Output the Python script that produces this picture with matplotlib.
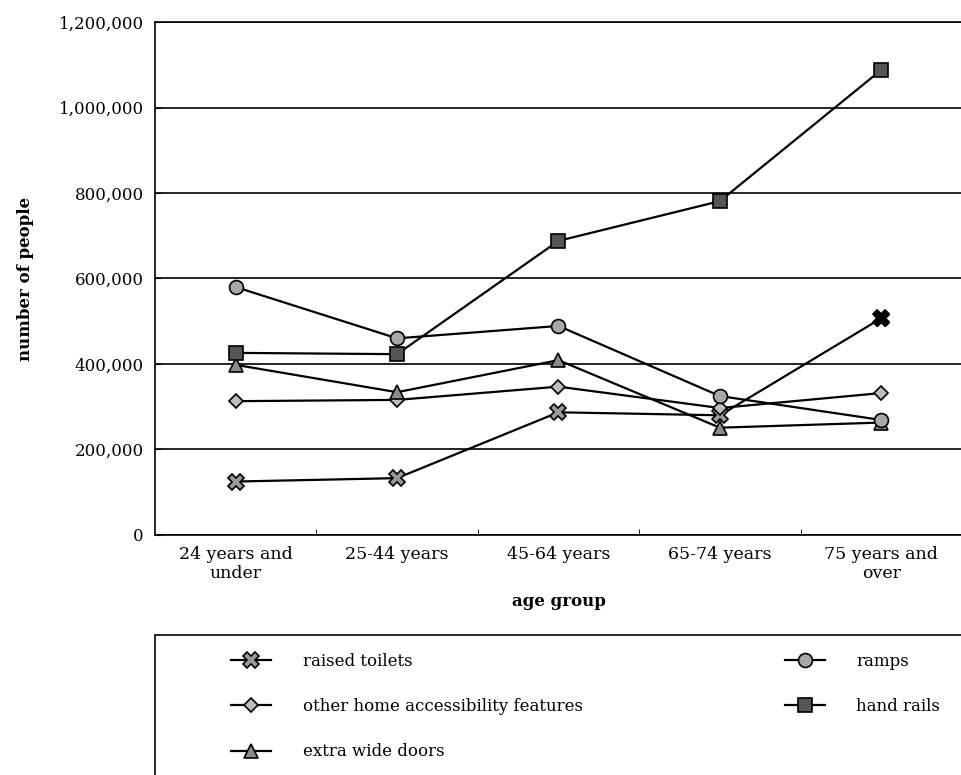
import matplotlib.pyplot as plt
from matplotlib.patches import Rectangle
from matplotlib.ticker import FuncFormatter, FixedLocator

# data
age_groups = ['24 years and\nunder', '25-44 years', '45-64 years', '65-74 years', '75 years and\nover']
raised_toilets = [125000, 133000, 287000, 280000, 507000]
ramps = [580000, 460000, 489000, 325000, 269000]
other_features = [313000, 316000, 347000, 297000, 332000]
hand_rails = [426000, 423000, 688000, 781000, 1088000]
extra_wide_doors = [398000, 334000, 409000, 251000, 263000]

plt.rcParams['font.family'] = ['DejaVu Serif']
plt.rcParams['font.size'] = 12

fig = plt.figure(figsize=(9.62, 7.75), dpi=100)
ax = fig.add_axes([0.1611, 0.3097, 0.8389, 0.6619])

x = list(range(len(age_groups)))

series = [
    ('raised toilets', raised_toilets, dict(marker='X', ms=11, mfc='#9a9a9a')),
    ('other home accessibility features', other_features, dict(marker='D', ms=7, mfc='#bdbdbd')),
    ('extra wide doors', extra_wide_doors, dict(marker='^', ms=10, mfc='#8a8a8a')),
    ('ramps', ramps, dict(marker='o', ms=10, mfc='#a8a8a8')),
    ('hand rails', hand_rails, dict(marker='s', ms=10, mfc='#555555')),
]

handles = []
for name, vals, st in series:
    h, = ax.plot(x, vals, color='black', lw=1.6, mec='black', mew=1.2, label=name, zorder=3, **st)
    handles.append(h)
# last raised-toilets marker is printed solid black
ax.plot(x[-1], raised_toilets[-1], marker='X', ms=11, color='black', zorder=4)

# grid / axes
ax.set_xlim(-0.5, len(age_groups) - 0.5)
ax.set_ylim(0, 1200000)
ax.yaxis.set_major_locator(FixedLocator([0, 200000, 400000, 600000, 800000, 1000000, 1200000]))
ax.yaxis.set_major_formatter(FuncFormatter(lambda v, p: f'{int(v):,}'))
ax.grid(axis='y', color='black', lw=1.2)
ax.set_axisbelow(True)
ax.set_xticks(x)
ax.set_xticklabels(age_groups, linespacing=1.15, fontsize=12.5)
ax.set_xticks([i + 0.5 for i in range(len(age_groups) - 1)], minor=True)
ax.tick_params(axis='x', which='major', length=0, pad=8)
ax.tick_params(axis='x', which='minor', direction='in', length=4)
ax.tick_params(axis='y', direction='in', length=4, pad=8)
ax.spines['right'].set_visible(False)
for s in ['left', 'bottom', 'top']:
    ax.spines[s].set_linewidth(1.2)

ax.set_xlabel('age group', fontweight='bold', labelpad=8)
ax.set_ylabel('number of people', fontweight='bold', labelpad=18)

# legend box
fig.patches.append(Rectangle((0.1611, -0.05), 0.9, 0.231, transform=fig.transFigure,
                             fill=False, edgecolor='black', lw=1.2))
leg_kw = dict(frameon=False, handlelength=2.4, handletextpad=1.9, labelspacing=1.7,
              loc='upper left', fontsize=12)
fig.legend(handles[:3], [s[0] for s in series[:3]], bbox_to_anchor=(0.225, 0.177), **leg_kw)
fig.legend(handles[3:], [s[0] for s in series[3:]], bbox_to_anchor=(0.80, 0.177), **leg_kw)

fig.savefig('out.png', dpi=100)
